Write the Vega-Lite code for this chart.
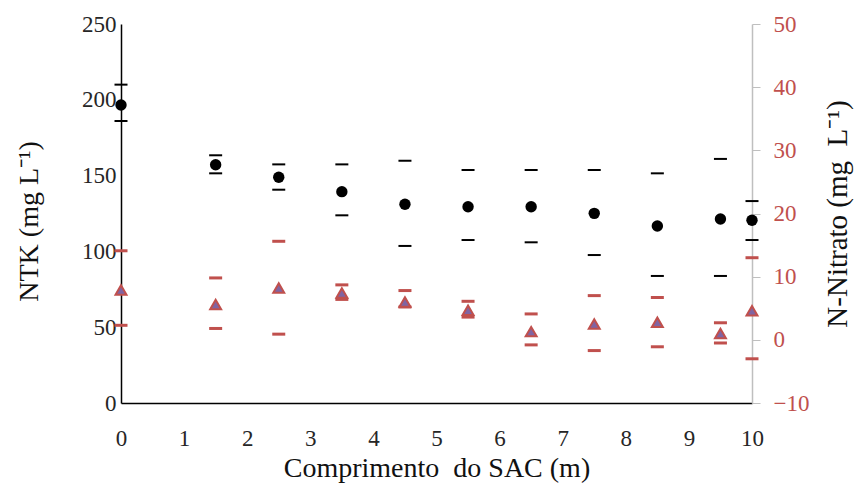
{
  "$schema": "https://vega.github.io/schema/vega-lite/v6.json",
  "autosize": {"type": "none"},
  "width": 631,
  "height": 379,
  "padding": {"left": 121, "top": 24, "right": 104, "bottom": 85},
  "background": "white",
  "config": {
    "view": {"stroke": null},
    "font": "Liberation Serif",
    "axis": {"grid": false, "labelFont": "Liberation Serif", "titleFont": "Liberation Serif", "labelFontSize": 23, "titleFontSize": 28, "titleFontWeight": "normal", "labelColor": "#262626", "titleColor": "#111"}
  },
  "data": {
    "values": [
      {"x": 0, "ntk": 196.6, "ntk_lo": 186, "ntk_hi": 210, "no3": 7.9, "no3_lo": 2.3, "no3_hi": 14.1},
      {"x": 1.5, "ntk": 157.2, "ntk_lo": 151.5, "ntk_hi": 163.4, "no3": 5.6, "no3_lo": 1.8, "no3_hi": 9.8},
      {"x": 2.5, "ntk": 148.9, "ntk_lo": 140.7, "ntk_hi": 157.4, "no3": 8.2, "no3_lo": 0.9, "no3_hi": 15.6},
      {"x": 3.5, "ntk": 139.4, "ntk_lo": 123.8, "ntk_hi": 157.4, "no3": 7.4, "no3_lo": 6.4, "no3_hi": 8.7},
      {"x": 4.5, "ntk": 131.1, "ntk_lo": 103.6, "ntk_hi": 159.8, "no3": 6.0, "no3_lo": 5.2, "no3_hi": 7.8},
      {"x": 5.5, "ntk": 129.5, "ntk_lo": 107.5, "ntk_hi": 153.7, "no3": 4.7, "no3_lo": 3.6, "no3_hi": 6.1},
      {"x": 6.5, "ntk": 129.5, "ntk_lo": 106, "ntk_hi": 153.7, "no3": 1.3, "no3_lo": -0.8, "no3_hi": 4.1},
      {"x": 7.5, "ntk": 125.1, "ntk_lo": 97.6, "ntk_hi": 153.7, "no3": 2.5, "no3_lo": -1.7, "no3_hi": 7.0},
      {"x": 8.5, "ntk": 116.8, "ntk_lo": 83.8, "ntk_hi": 151.5, "no3": 2.8, "no3_lo": -1.1, "no3_hi": 6.7},
      {"x": 9.5, "ntk": 121.4, "ntk_lo": 83.8, "ntk_hi": 161, "no3": 1.0, "no3_lo": -0.5, "no3_hi": 2.7},
      {"x": 10, "ntk": 120.5, "ntk_lo": 107.5, "ntk_hi": 133.2, "no3": 4.6, "no3_lo": -3.0, "no3_hi": 13.0}
    ]
  },
  "encoding": {
    "x": {
      "field": "x", "type": "quantitative",
      "scale": {"domain": [0, 10], "nice": false, "zero": false},
      "axis": {"title": "Comprimento\u00a0 do SAC (m)", "values": [0,1,2,3,4,5,6,7,8,9,10], "format": "d", "ticks": false, "domainColor": "#000", "domainWidth": 1.5, "labelPadding": 24, "titlePadding": 4, "labelFlush": false}
    }
  },
  "layer": [
    {
      "layer": [
        {
          "mark": {"type": "tick", "orient": "horizontal", "size": 13, "thickness": 2, "color": "#000", "opacity": 1},
          "encoding": {
            "y": {"field": "ntk_lo", "type": "quantitative", "scale": {"domain": [0, 250], "nice": false},
              "axis": {"title": "NTK (mg L⁻¹)", "values": [0,50,100,150,200,250], "ticks": false, "domainColor": "#000", "domainWidth": 1.5, "labelPadding": 5, "titlePadding": 38, "titleY": 197}}
          }
        },
        {
          "mark": {"type": "tick", "orient": "horizontal", "size": 13, "thickness": 2, "color": "#000", "opacity": 1},
          "encoding": {"y": {"field": "ntk_hi", "type": "quantitative"}}
        },
        {
          "mark": {"type": "point", "shape": "circle", "filled": true, "size": 130, "color": "#000", "opacity": 1},
          "encoding": {"y": {"field": "ntk", "type": "quantitative"}}
        }
      ]
    },
    {
      "layer": [
        {
          "mark": {"type": "tick", "orient": "horizontal", "size": 13, "thickness": 3, "color": "#C0504D", "opacity": 1},
          "encoding": {
            "y": {"field": "no3_lo", "type": "quantitative", "scale": {"domain": [-10, 50], "nice": false, "zero": false},
              "axis": {"orient": "right", "title": "N-Nitrato (mg\u00a0 L⁻¹)", "titleFontSize": 29, "titleAngle": -90, "titleBaseline": "bottom", "values": [-10,0,10,20,30,40,50], "tickColor": "#BFBFBF", "tickSize": 8, "domainColor": "#BFBFBF", "domainWidth": 1.5, "labelColor": "#C0504D", "labelPadding": 13, "titlePadding": 44}}
          }
        },
        {
          "mark": {"type": "tick", "orient": "horizontal", "size": 13, "thickness": 3, "color": "#C0504D", "opacity": 1},
          "encoding": {"y": {"field": "no3_hi", "type": "quantitative"}}
        },
        {
          "mark": {"type": "point", "shape": "triangle-up", "filled": true, "size": 120, "fill": "#8064A2", "stroke": "#C0504D", "strokeWidth": 2, "opacity": 1},
          "encoding": {"y": {"field": "no3", "type": "quantitative"}}
        }
      ]
    }
  ],
  "resolve": {"scale": {"y": "independent"}}
}
